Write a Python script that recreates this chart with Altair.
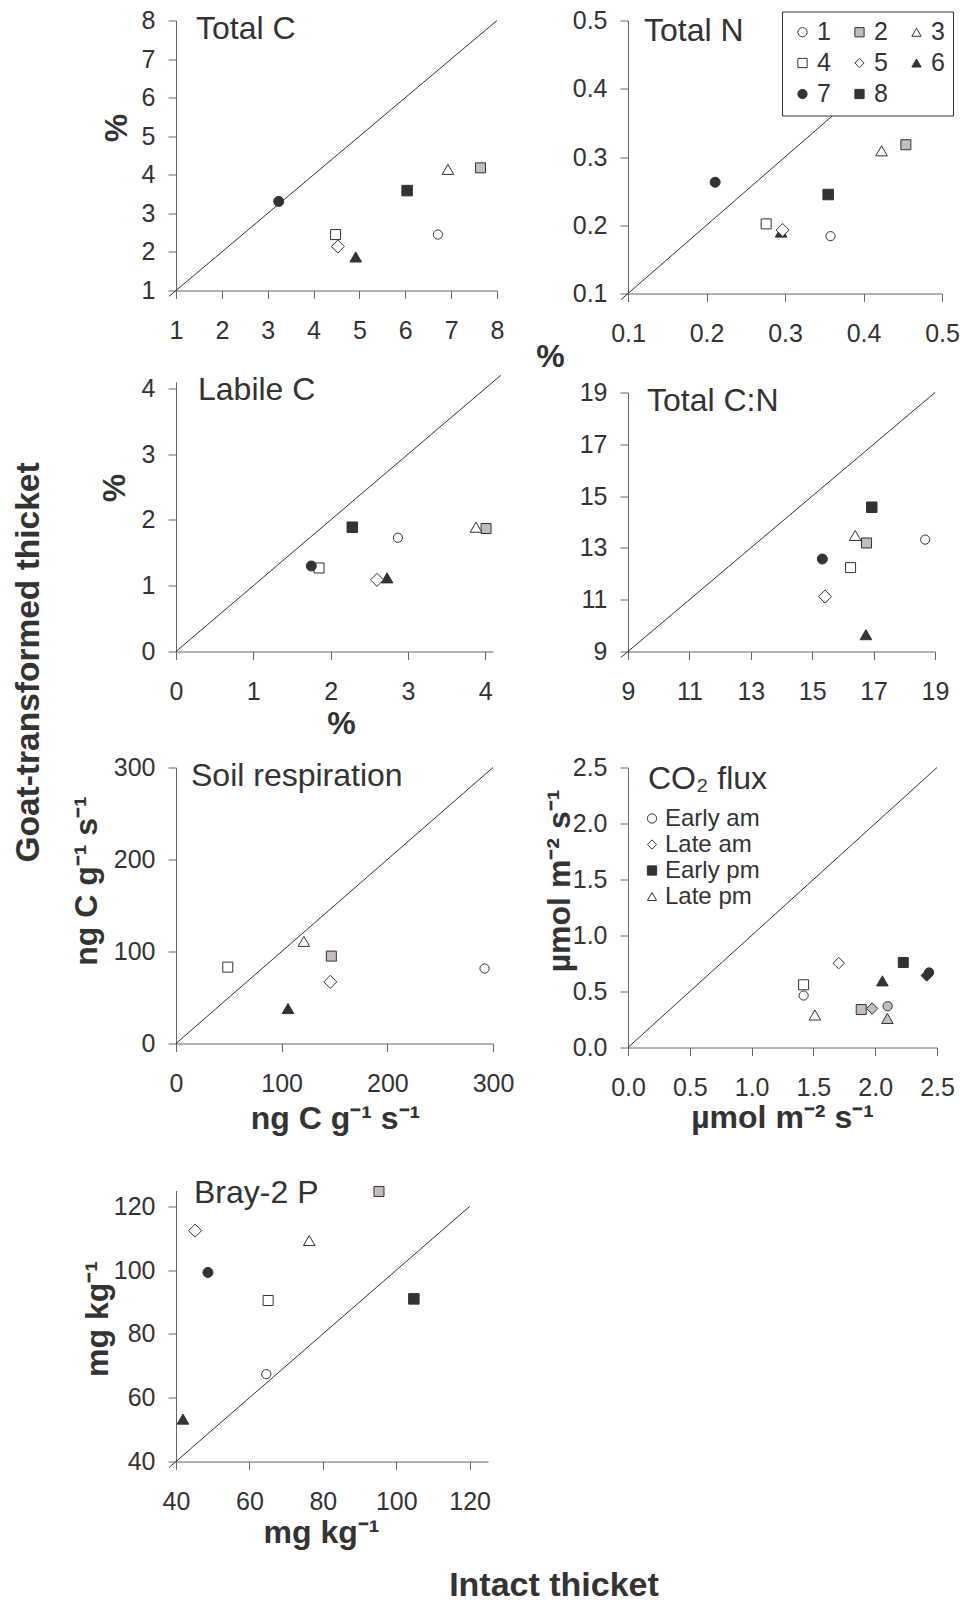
import altair as alt
import pandas as pd

FONT = "Liberation Sans"
INK = "#333333"
GREY = "#c4bcbc"
WHITE = "#ffffff"

# ---- categories -------------------------------------------------------
SITES = ["1", "2", "3", "4", "5", "6", "7", "8"]
SITE_SHAPES = ["circle", "square", "triangle-up", "square", "diamond", "triangle-up", "circle", "square"]
SITE_FILLS = [WHITE, GREY, WHITE, WHITE, WHITE, INK, INK, INK]
SITE_SIZES = [85, 100, 135, 100, 170, 135, 100, 110]
# legend entries are laid out column by column: this order reads 1-2-3 / 4-5-6 / 7-8 across
SITE_KEY_ORDER = ["1", "4", "7", "2", "5", "8", "3", "6"]

TIMES = ["Early am", "Late am", "Early pm", "Late pm"]
TIME_SHAPES = ["circle", "diamond", "square", "triangle-up"]
TIME_SIZES = [85, 130, 100, 135]
TIME_KEY_FILLS = [WHITE, WHITE, INK, WHITE]
GROUPS = ["A", "B", "C"]
GROUP_FILLS = [WHITE, GREY, INK]

# ---- values (intact thicket, goat-transformed thicket) ------------------
TOTAL_C_INTACT = [6.71, 7.64, 6.93, 4.48, 4.53, 4.92, 3.24, 6.04]
TOTAL_C_GOAT = [2.45, 4.18, 4.14, 2.45, 2.14, 1.87, 3.31, 3.59]

TOTAL_N_INTACT = [0.358, 0.454, 0.423, 0.276, 0.297, 0.295, 0.211, 0.355]
TOTAL_N_GOAT = [0.184, 0.318, 0.309, 0.202, 0.193, 0.190, 0.263, 0.245]

LABILE_C_INTACT = [2.87, 4.01, 3.88, 1.85, 2.60, 2.73, 1.75, 2.28]
LABILE_C_GOAT = [1.73, 1.87, 1.89, 1.27, 1.09, 1.12, 1.30, 1.89]

CN_INTACT = [18.68, 16.77, 16.40, 16.25, 15.42, 16.75, 15.33, 16.94]
CN_GOAT = [13.32, 13.19, 13.48, 12.24, 11.12, 9.65, 12.57, 14.57]

RESP_SITES = ["1", "2", "3", "4", "5", "6"]
RESP_INTACT = [292, 147, 121, 49, 146, 106]
RESP_GOAT = [81.5, 95, 111, 83, 67, 38]

BRAY_INTACT = [64.6, 95.3, 76.3, 65.1, 45.2, 41.9, 48.7, 104.8]
BRAY_GOAT = [67.4, 124.7, 109.3, 90.5, 112.4, 53.3, 99.3, 91.0]

CO2_TIME = ["Early am", "Late am", "Early pm", "Late pm"] * 3
CO2_GROUP = ["A"] * 4 + ["B"] * 4 + ["C"] * 4
CO2_INTACT = [1.421, 1.705, 1.421, 1.512, 2.101, 1.975, 1.887, 2.098, 2.436, 2.417, 2.227, 2.058]
CO2_GOAT = [0.464, 0.753, 0.560, 0.290, 0.369, 0.348, 0.339, 0.259, 0.670, 0.643, 0.759, 0.595]

# ---- axis tick values and 1:1 line ends --------------------------------
TICKS_C = [1, 2, 3, 4, 5, 6, 7, 8]
TICKS_N = [0.1, 0.2, 0.3, 0.4, 0.5]
TICKS_LABILE = [0, 1, 2, 3, 4]
TICKS_CN = [9, 11, 13, 15, 17, 19]
TICKS_RESP = [0, 100, 200, 300]
TICKS_CO2 = [0.0, 0.5, 1.0, 1.5, 2.0, 2.5]
TICKS_BRAY = [40, 60, 80, 100, 120]

DIAG_C = [0.85, 8]
DIAG_N = [0.091, 0.5]
DIAG_LABILE = [0, 4.2]
DIAG_CN = [8.77, 19]
DIAG_RESP = [0, 300]
DIAG_CO2 = [0, 2.5]
DIAG_BRAY = [38.1, 120]

UNIT_RESP = "ng C g\u207b\u00b9 s\u207b\u00b9"
UNIT_CO2 = "\u00b5mol m\u207b\u00b2 s\u207b\u00b9"
UNIT_BRAY = "mg kg\u207b\u00b9"


def axis(ticks, fmt, title, angle=None):
    kw = dict(values=ticks, format=fmt)
    if title is None:
        kw["title"] = None
    else:
        kw.update(title=title[0], titleX=title[1], titleY=title[2],
                  titleAlign="center", titleBaseline="middle")
        if angle is not None:
            kw["titleAngle"] = angle
    return alt.Axis(**kw)


def encodings(xdom, ydom, h, ytop, xt, yt, fx, fy, xtitle, ytitle):
    x = alt.X("intact:Q", scale=alt.Scale(domain=xdom, nice=False, zero=False),
              axis=axis(xt, fx, xtitle))
    y = alt.Y("goat:Q", scale=alt.Scale(domain=ydom, range=[h, ytop], nice=False, zero=False),
              axis=axis(yt, fy, ytitle, 270))
    return x, y


def label_layer(text, px, py, size=32, bold=False, angle=0, align="left"):
    return alt.Chart(pd.DataFrame({"label": [text]})).mark_text(
        align=align, baseline="alphabetic", font=FONT, fontSize=size,
        fontWeight="bold" if bold else "normal", color=INK, angle=angle,
    ).encode(text="label:N", x=alt.value(px), y=alt.value(py))


def diag_layer(diag, x, y):
    return alt.Chart(pd.DataFrame({"intact": diag, "goat": diag})).mark_line(
        color=INK, strokeWidth=1).encode(x=x, y=y)


def size_groups(keys, sizes):
    out = {}
    for k, s in zip(keys, sizes):
        out.setdefault(s, []).append(k)
    return [(v, s) for s, v in out.items()]


def point_layers(df, x, y, key, key_domain, key_shapes, key_sizes, fill_field, fill_domain, fill_range):
    layers = []
    for vals, sz in size_groups(key_domain, key_sizes):
        layers.append(
            alt.Chart(df).transform_filter(
                alt.FieldOneOfPredicate(field=key, oneOf=vals)
            ).mark_point(filled=True, size=sz, stroke=INK, strokeWidth=1, opacity=1, fillOpacity=1).encode(
                x=x, y=y,
                shape=alt.Shape(f"{key}:N", scale=alt.Scale(domain=key_domain, range=key_shapes), legend=None),
                fill=alt.Fill(f"{fill_field}:N", scale=alt.Scale(domain=fill_domain, range=fill_range), legend=None),
            )
        )
    return layers


def key_layer(df, x, y, key, domain, shapes, fills, legend):
    return alt.Chart(df).transform_filter("false").mark_point(
        filled=True, stroke=INK, strokeWidth=1, opacity=1, fillOpacity=1).encode(
        x=x, y=y,
        shape=alt.Shape(f"{key}:N", scale=alt.Scale(domain=domain, range=shapes), legend=legend),
        fill=alt.Fill(f"{key}:N", scale=alt.Scale(domain=domain, range=fills), legend=legend),
    )


def site_panel(sites, xi, yg, w, h, ytop, xdom, ydom, xt, yt, fx, fy, diag,
               title, tpos, xtitle=None, ytitle=None, legend=None, extra=()):
    x, y = encodings(xdom, ydom, h, ytop, xt, yt, fx, fy, xtitle, ytitle)
    df = pd.DataFrame({"site": sites, "intact": xi, "goat": yg})
    layers = [diag_layer(diag, x, y)]
    layers += point_layers(df, x, y, "site", SITES, SITE_SHAPES, SITE_SIZES, "site", SITES, SITE_FILLS)
    if legend is not None:
        idx = [SITES.index(s) for s in SITE_KEY_ORDER]
        layers.append(key_layer(df, x, y, "site", SITE_KEY_ORDER,
                                [SITE_SHAPES[i] for i in idx], [SITE_FILLS[i] for i in idx], legend))
    layers.append(label_layer(title, *tpos))
    layers += list(extra)
    return alt.layer(*layers).resolve_scale(
        shape="independent", fill="independent").properties(width=w, height=h)


site_legend = alt.Legend(
    title=None, orient="none", legendX=154, legendY=-9, columns=3,
    labelFont=FONT, labelFontSize=25, labelColor=INK, labelOffset=2,
    symbolSize=85, symbolStrokeWidth=1,
    columnPadding=16, rowPadding=5, padding=8,
    strokeColor=INK, fillColor=WHITE,
)

time_legend = alt.Legend(
    title=None, orient="none", legendX=12, legendY=75,
    labelFont=FONT, labelFontSize=24, labelColor=INK, labelOffset=1,
    symbolSize=85, symbolStrokeWidth=1,
    rowPadding=2, padding=0,
)

p1 = site_panel(SITES, TOTAL_C_INTACT, TOTAL_C_GOAT, 321, 270, 0, [1, 8], [1, 8],
                TICKS_C, TICKS_C, "d", "d", DIAG_C, "Total C", (20, 18),
                ytitle=("%", -60, 107))
p2 = site_panel(SITES, TOTAL_N_INTACT, TOTAL_N_GOAT, 314, 273, 0, [0.1, 0.5], [0.1, 0.5],
                TICKS_N, TICKS_N, ".1f", ".1f", DIAG_N, "Total N", (16, 20),
                xtitle=("%", -78, 63), legend=site_legend)
p3 = site_panel(SITES, LABILE_C_INTACT, LABILE_C_GOAT, 317, 278, 8.4, [0, 4.1], [0, 4.1],
                TICKS_LABILE, TICKS_LABILE, "d", "d", DIAG_LABILE, "Labile C", (22, 26),
                xtitle=("%", 165, 72), ytitle=("%", -62, 114),
                extra=[label_layer("Goat-transformed thicket", -137, 289, size=33.5, bold=True,
                                   angle=270, align="center")])
p4 = site_panel(SITES, CN_INTACT, CN_GOAT, 307, 278, 19, [9, 19], [9, 19],
                TICKS_CN, TICKS_CN, "d", "d", DIAG_CN, "Total C:N", (19, 37))
p5 = site_panel(RESP_SITES, RESP_INTACT, RESP_GOAT, 317, 312, 36, [0, 300], [0, 300],
                TICKS_RESP, TICKS_RESP, "d", "d", DIAG_RESP, "Soil respiration", (15, 54),
                xtitle=(UNIT_RESP, 159, 75), ytitle=(UNIT_RESP, -90, 149))
p7 = site_panel(SITES, BRAY_INTACT, BRAY_GOAT, 312, 334, 63, [40, 125], [40, 125],
                TICKS_BRAY, TICKS_BRAY, "d", "d", DIAG_BRAY, "Bray-2 P", (18, 75),
                xtitle=(UNIT_BRAY, 145, 71), ytitle=(UNIT_BRAY, -79, 191),
                extra=[label_layer("Intact thicket", 378, 468, size=34, bold=True, align="center")])

# ---- CO2 flux panel (shape = time of day, fill = site group) -----------
x6, y6 = encodings([0, 2.5], [0, 2.5], 316, 36, TICKS_CO2, TICKS_CO2, ".1f", ".1f",
                   (UNIT_CO2, 154, 70), (UNIT_CO2, -69, 149))
co2 = pd.DataFrame({"time": CO2_TIME, "grp": CO2_GROUP, "intact": CO2_INTACT, "goat": CO2_GOAT})
p6_layers = [diag_layer(DIAG_CO2, x6, y6)]
p6_layers += point_layers(co2, x6, y6, "time", TIMES, TIME_SHAPES, TIME_SIZES, "grp", GROUPS, GROUP_FILLS)
p6_layers.append(key_layer(co2, x6, y6, "time", TIMES, TIME_SHAPES, TIME_KEY_FILLS, time_legend))
p6_layers.append(label_layer("CO\u2082 flux", 20, 57))
p6 = alt.layer(*p6_layers).resolve_scale(
    shape="independent", fill="independent").properties(width=309, height=316)

chart = alt.concat(
    p1, p2, p3, p4, p5, p6, p7,
    columns=2, spacing={"row": 80, "column": 131}, bounds="flush", align="each",
).resolve_scale(
    shape="independent", fill="independent"
).properties(
    padding={"left": 12, "top": 8.5, "right": 0, "bottom": 0}
).configure(
    font=FONT
).configure_view(
    strokeWidth=0
).configure_axis(
    grid=False, domainColor="#666666", domainWidth=1, tickColor="#666666", tickSize=8,
    labelFont=FONT, labelFontSize=25, labelColor=INK, labelFlush=False, labelOverlap=False,
    titleFont=FONT, titleFontSize=32, titleFontWeight="bold", titleColor=INK,
).configure_axisX(
    labelPadding=20
).configure_axisY(
    labelPadding=13
)

chart.save("out.html", embed_options={"renderer": "svg", "actions": False})
